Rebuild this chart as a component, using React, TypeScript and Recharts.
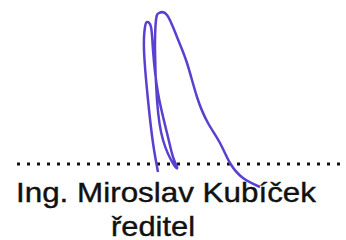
import { LineChart, Line, XAxis, YAxis, ReferenceLine } from "recharts";

// signature stroke (pixel coordinates)
const strokeX = [158, 153, 148, 144, 145, 147, 151, 153, 158, 167, 173, 177, 174, 163, 157, 155, 156, 159, 167, 177, 187, 197, 208, 220, 230, 243, 260];
const strokeY = [172, 143, 100, 50, 27, 22, 27, 50, 93, 133, 157, 167, 165, 140, 100, 50, 20, 13, 15, 37, 63, 97, 123, 143, 163, 178, 187];

const lineY = 164;
const lineFrom = 17;
const lineTo = 346;

const nameText = "Ing. Miroslav Kubíček";
const titleText = "ředitel";

const data = strokeX.map((x, i) => ({ x, y: strokeY[i] }));

export default function App() {
  return (
    <div style={{ position: "absolute", left: 0, top: 0, width: 346, height: 240, background: "#fff" }}>
      <LineChart width={346} height={240} data={data} margin={{ top: 0, right: 0, bottom: 0, left: 0 }}>
        <XAxis type="number" dataKey="x" domain={[0, 346]} hide />
        <YAxis type="number" dataKey="y" domain={[0, 240]} reversed hide />
        <ReferenceLine
          segment={[{ x: lineFrom, y: lineY }, { x: lineTo, y: lineY }]}
          stroke="#111"
          strokeWidth={3}
          strokeDasharray="3 7"
        />
        <Line
          dataKey="y"
          type="natural"
          stroke="#5a3fd0"
          strokeWidth={2.5}
          dot={false}
          isAnimationActive={false}
        />
      </LineChart>
      <svg width={346} height={240} style={{ position: "absolute", left: 0, top: 0 }}>
        <g fontFamily="Liberation Sans, Arial, sans-serif" fill="#111" stroke="#111" strokeWidth={0.4} fontSize={28}>
          <text x={16} y={202} textLength={300} lengthAdjust="spacingAndGlyphs">{nameText}</text>
          <text x={111} y={236} textLength={84} lengthAdjust="spacingAndGlyphs">{titleText}</text>
        </g>
      </svg>
    </div>
  );
}
